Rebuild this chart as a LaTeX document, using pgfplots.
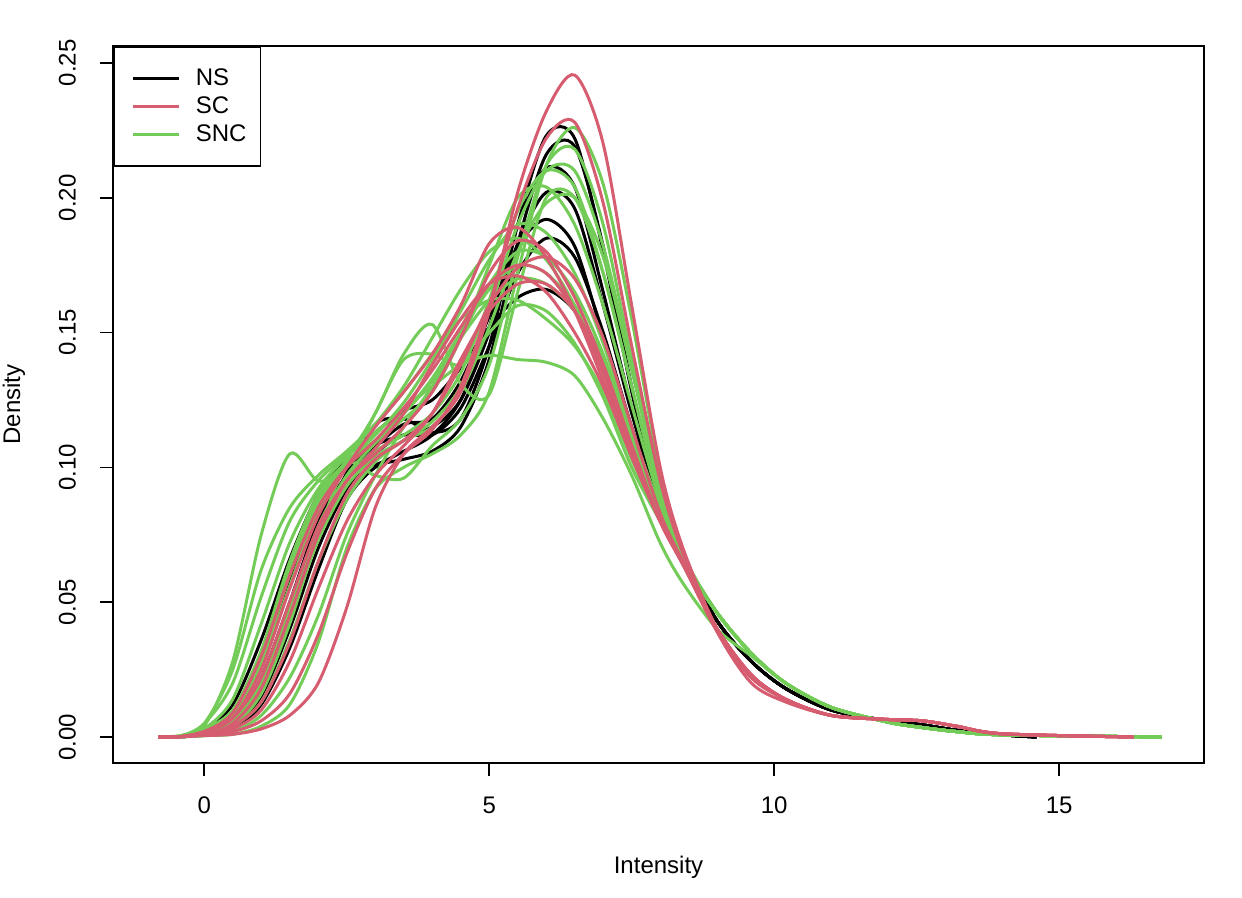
\documentclass[border=0pt]{standalone}
\usepackage{fontspec}
\setmainfont{Liberation Sans}
\usepackage{pgfplots}
\usepackage{pgfplotstable}
\pgfplotsset{compat=1.18}
\definecolor{scc}{HTML}{D65C70}
\definecolor{sncc}{HTML}{74CC58}

\pgfplotstableread{
x      n1    n2    n3    n4    n5    n6    n7
-0.8   0     0     0     0     0     0     0
-0.4   .0001 .0001 .0002 .0002 .0002 .0003 .0001
0      .001  .001  .002  .002  .002  .003  .001
0.5    .005  .003  .008  .006  .008  .012  .004
1      .018  .012  .027  .022  .028  .036  .015
1.5    .045  .033  .058  .050  .058  .066  .040
2      .075  .062  .088  .080  .085  .090  .070
2.5    .098  .088  .100  .097  .100  .104  .092
3      .116  .100  .101  .108  .108  .113  .105
3.5    .118  .103  .106  .112  .116  .121  .112
4      .113  .106  .112  .115  .118  .125  .112
4.5    .118  .115  .125  .125  .132  .137  .122
5      .145  .140  .152  .150  .156  .152  .145
5.5    .190  .183  .190  .183  .182  .163  .172
6      .223  .216  .211  .202  .192  .166  .185
6.5    .222  .219  .204  .196  .182  .158  .178
7      .180  .182  .165  .160  .148  .138  .150
7.5    .128  .130  .122  .120  .113  .110  .115
8      .086  .088  .085  .085  .083  .082  .084
8.4    .067  .067  .066  .066  .066  .066  .066
9      .043  .043  .043  .043  .043  .043  .043
9.6    .028  .028  .028  .028  .028  .028  .028
10.2   .018  .018  .018  .018  .018  .018  .018
11     .010  .010  .010  .010  .010  .010  .010
12     .006  .006  .006  .006  .006  .006  .006
12.6   .0045 .0045 .0045 .0045 .0045 .0045 .0045
13.2   .0025 .0025 .0025 .0025 .0025 .0025 .0025
14     .0008 .0008 .0008 .0008 .0008 .0008 .0008
14.6   0     0     0     0     0     0     0
}\tabNS

\pgfplotstableread{
x      s1    s2    s3    s4    s5    s6    s7    s8
-0.8   0     0     0     0     0     0     0     0
-0.4   .0001 .0001 .0002 .0001 .0001 .0002 .0002 .0001
0      .0005 .001  .002  .001  .001  .002  .002  .001
0.5    .001  .002  .007  .005  .004  .009  .007  .003
1      .003  .006  .025  .018  .013  .030  .022  .010
1.5    .008  .016  .055  .045  .035  .060  .050  .028
2      .020  .038  .082  .075  .065  .085  .078  .055
2.5    .048  .068  .100  .095  .090  .100  .095  .080
3      .085  .092  .115  .105  .103  .110  .107  .097
3.5    .105  .105  .128  .115  .110  .122  .120  .108
4      .115  .114  .142  .128  .120  .136  .138  .120
4.5    .128  .130  .160  .148  .138  .152  .155  .140
5      .158  .160  .183  .172  .160  .168  .168  .158
5.5    .202  .196  .189  .184  .174  .175  .171  .168
6      .232  .222  .178  .180  .178  .172  .165  .168
6.5    .2455 .228  .158  .163  .170  .158  .150  .158
7      .220  .198  .132  .138  .148  .135  .130  .138
7.5    .160  .145  .104  .108  .115  .105  .104  .108
8      .100  .095  .080  .080  .083  .080  .080  .080
8.4    .070  .068  .064  .064  .065  .064  .064  .064
9      .040  .039  .040  .039  .040  .040  .040  .040
9.6    .022  .020  .023  .022  .023  .023  .023  .023
10.2   .014  .013  .014  .014  .014  .014  .014  .014
11     .008  .008  .008  .008  .008  .008  .008  .008
12     .0065 .0065 .0065 .0065 .0065 .0065 .0065 .0065
12.6   .006  .006  .006  .006  .006  .006  .006  .006
13.2   .004  .004  .004  .004  .004  .004  .004  .004
14     .0012 .0012 .0012 .0012 .0012 .0012 .0012 .0012
16.3   0     0     0     0     0     0     0     0
}\tabSC

\pgfplotstableread{
x      g1    g2    g3    g4    g5    g6    g7    g8    g9    g10   g11   g12   g13   g14   g15
-0.8   0     0     0     0     0     0     0     0     0     0     0     0     0     0     0
-0.4   .0001 .0001 .0006 .0002 .0003 .0002 .0003 .0002 .0005 .0002 .0005 .0001 .0001 .0002 .0001
0      .0005 .001  .004  .002  .003  .002  .003  .002  .005  .002  .005  .001  .0005 .002  .001
0.5    .001  .004  .028  .008  .014  .006  .010  .008  .020  .006  .025  .004  .002  .008  .005
1      .004  .016  .075  .028  .042  .020  .032  .030  .052  .020  .062  .013  .008  .026  .018
1.5    .012  .042  .105  .060  .072  .048  .065  .062  .080  .048  .085  .036  .022  .056  .044
2      .035  .075  .095  .086  .092  .078  .090  .088  .095  .078  .097  .065  .045  .084  .073
2.5    .070  .101  .100  .103  .104  .096  .102  .102  .105  .097  .106  .088  .075  .100  .093
3      .092  .097  .120  .120  .113  .106  .110  .112  .116  .109  .116  .102  .097  .110  .104
3.5    .100  .096  .140  .142  .122  .112  .118  .124  .130  .120  .128  .110  .115  .120  .110
4      .105  .108  .142  .153  .130  .120  .128  .140  .148  .133  .142  .115  .130  .132  .117
4.5    .112  .118  .138  .131  .138  .135  .148  .158  .166  .150  .155  .128  .148  .148  .130
5      .128  .138  .150  .127  .1415 .162  .175  .177  .180  .166  .162  .152  .168  .162  .158
5.5    .172  .178  .160  .165  .140  .195  .200  .190  .185  .175  .162  .180  .180  .170  .190
6      .212  .212  .158  .200  .139  .210  .204  .187  .177  .172  .155  .198  .178  .168  .210
6.5    .226  .218  .146  .200  .134  .204  .190  .172  .160  .160  .145  .200  .165  .158  .210
7      .205  .190  .126  .172  .118  .172  .160  .146  .136  .140  .128  .178  .142  .138  .182
7.5    .155  .140  .100  .130  .097  .130  .123  .114  .107  .110  .103  .136  .112  .110  .137
8      .098  .093  .080  .088  .072  .089  .087  .085  .082  .082  .080  .092  .084  .083  .091
8.4    .068  .067  .066  .066  .057  .067  .066  .066  .065  .065  .065  .067  .065  .065  .067
9      .046  .046  .046  .046  .040  .046  .046  .046  .046  .046  .046  .046  .046  .046  .046
9.6    .031  .031  .031  .031  .030  .031  .031  .031  .031  .031  .031  .031  .031  .031  .031
10.2   .020  .020  .020  .020  .020  .020  .020  .020  .020  .020  .020  .020  .020  .020  .020
11     .011  .011  .011  .011  .011  .011  .011  .011  .011  .011  .011  .011  .011  .011  .011
12     .0055 .0055 .0055 .0055 .0055 .0055 .0055 .0055 .0055 .0055 .0055 .0055 .0055 .0055 .0055
12.6   .0035 .0035 .0035 .0035 .0035 .0035 .0035 .0035 .0035 .0035 .0035 .0035 .0035 .0035 .0035
13.2   .002  .002  .002  .002  .002  .002  .002  .002  .002  .002  .002  .002  .002  .002  .002
14     .0008 .0008 .0008 .0008 .0008 .0008 .0008 .0008 .0008 .0008 .0008 .0008 .0008 .0008 .0008
16.8   0     0     0     0     0     0     0     0     0     0     0     0     0     0     0
}\tabSNC

\pgfplotsset{
  ns/.style={black, line width=1.5pt},
  sc/.style={scc, line width=1.5pt},
  snc/.style={sncc, line width=1.5pt},
}

\begin{document}
\begin{tikzpicture}
\begin{axis}[
  at={(0,0)}, anchor=south west,
  scale only axis, width=545.5pt, height=358.5pt,
  xmin=-1.6, xmax=17.54, ymin=-0.00964, ymax=0.2563,
  axis line style={line width=0.8pt},
  tick style={line width=0.8pt, black},
  tick align=outside, major tick length=6.5pt,
  xtick pos=bottom, ytick pos=left,
  xtick={0,5,10,15}, xticklabels={0,5,10,15},
  ytick={0,0.05,0.1,0.15,0.2,0.25},
  yticklabels={0.00,0.05,0.10,0.15,0.20,0.25},
  ticklabel style={font=\fontsize{12}{14}\selectfont},
  yticklabel style={xshift=-8.5pt, rotate=90, anchor=south},
  xticklabel style={yshift=-7pt},
  xlabel={Intensity}, ylabel={Density},
  label style={font=\fontsize{12}{14}\selectfont},
  xlabel style={at={(axis description cs:0.5,-0.145)}, anchor=center},
  ylabel style={at={(axis description cs:-0.0907,0.5)}, anchor=center},
  legend style={at={(0,1)}, anchor=north west, draw=black, line width=0.8pt,
    font=\fontsize{12}{14}\selectfont, inner xsep=6pt, inner ysep=10pt,
    row sep=2pt, nodes={inner sep=1pt, line width=1.5pt},
    /tikz/every odd column/.append style={column sep=6.5pt}},
  legend cell align=left,
  legend image code/.code={\path (0pt,0pt) (26pt,0pt); \draw[#1] (3pt,0pt) -- (26pt,0pt);},
  every axis plot/.append style={smooth},
]
\addlegendimage{ns}\addlegendentry{NS}
\addlegendimage{sc}\addlegendentry{SC}
\addlegendimage{snc}\addlegendentry{SNC}
\pgfplotsinvokeforeach{n1,n2,n3,n4,n5,n6,n7}{
  \addplot[ns, forget plot] table[x=x, y=#1] {\tabNS};
}
\pgfplotsinvokeforeach{g1,g2,g3,g4,g5,g6,g7,g8,g9,g10,g11,g12,g13,g14,g15}{
  \addplot[snc, forget plot] table[x=x, y=#1] {\tabSNC};
}
\pgfplotsinvokeforeach{s1,s2,s3,s4,s5,s6,s7,s8}{
  \addplot[sc, forget plot] table[x=x, y=#1] {\tabSC};
}
\end{axis}
\pgfresetboundingbox
\path[use as bounding box] (-56.5pt,-67.5pt) rectangle (564.5pt,381.5pt);
\end{tikzpicture}
\end{document}
